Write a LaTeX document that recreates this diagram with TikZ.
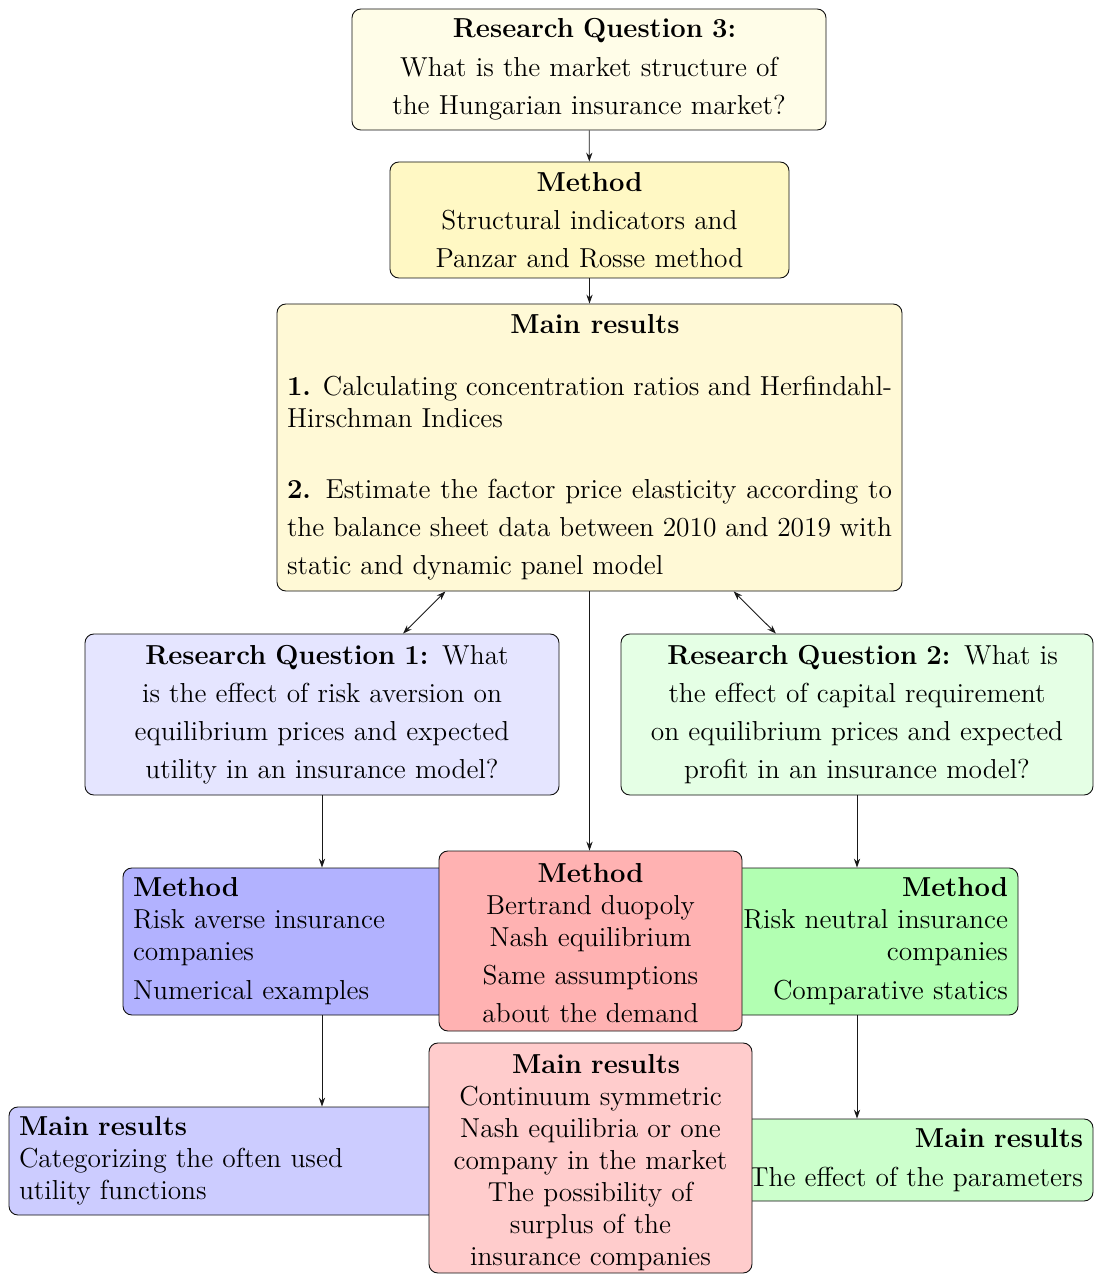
\documentclass[tikz,border=0pt]{standalone}
\usetikzlibrary{arrows.meta}
\definecolor{rqthree}{RGB}{255,253,232}
\definecolor{methree}{RGB}{255,248,196}
\definecolor{mrthree}{RGB}{255,249,214}
\begin{document}
\begin{tikzpicture}[x=0.45pt,y=-0.45pt,
  box/.style={draw=black!95, rounded corners=4pt, inner xsep=4.5pt, inner ysep=0pt,
    font=\fontsize{12.35}{14.4}\selectfont},
  tall/.style={font=\fontsize{12.35}{17.1}\selectfont},
  arr/.style={-{Stealth[length=4pt,width=2.8pt]}, draw=black!90},
  darr/.style={{Stealth[length=4pt,width=2.8pt]}-{Stealth[length=4pt,width=2.8pt]}, draw=black!90}]
\useasboundingbox (0,0) rectangle (1093,1274);

% top column
\node[box, tall, fill=rqthree, align=center, text width=454*0.45pt, minimum height=121*0.45pt]
  (rq3) at (589,69.5) {\hspace*{5pt}\textbf{Research Question 3:}\\[0.5pt]What is the market structure of\\the Hungarian insurance market?};
\node[box, tall, fill=methree, align=center, text width=379*0.45pt, minimum height=116*0.45pt]
  (m3) at (589.5,220) {\textbf{Method}\\Structural indicators and\\Panzar and Rosse method};
\node[box, fill=mrthree, align=justify, text width=605*0.45pt, minimum height=287*0.45pt]
  (mr3) at (589.5,447.5) {\setlength\parindent{0pt}%
  {\centering\hspace*{5pt}\textbf{Main results}\par}
  \vspace{13.5pt}
  \textbf{1.} Calculating concentration ratios and Herfindahl-\linebreak Hirschman Indices\par
  \vspace{14.75pt}
  {\baselineskip=17.2pt \textbf{2.} Estimate the factor price elasticity according to\linebreak the balance sheet data between 2010 and 2019 with\linebreak static and dynamic panel model\par}};

% research questions
\node[box, tall, fill=blue!10, align=center, text width=454*0.45pt, minimum height=161*0.45pt]
  (rq1) at (322,714.5) {\hspace*{4.5pt}\textbf{Research Question 1:} What\\is the effect of risk aversion on\\equilibrium prices and expected\\utility in an insurance model?};
\node[box, tall, fill=green!10, align=center, text width=452*0.45pt, minimum height=161*0.45pt]
  (rq2) at (857,714.5) {\hspace*{5pt}\textbf{Research Question 2:} What is\\the effect of capital requirement\\on equilibrium prices and expected\\profit in an insurance model?};

% side methods and results
\node[box, fill=blue!30, align=left, text width=378*0.45pt, minimum height=147*0.45pt]
  (m1) at (322,941.5) {\textbf{Method}\\Risk averse insurance\\companies\\[3.1pt]Numerical examples};
\node[box, fill=green!30, align=right, text width=302*0.45pt, minimum height=147*0.45pt]
  (m2) at (857,941.5) {\textbf{Method}\\Risk neutral insurance\\companies\\[3.1pt]Comparative statics};
\node[box, fill=blue!20, align=left, text width=606*0.45pt, minimum height=108*0.45pt]
  (r1) at (322,1161) {\textbf{Main results}\\Categorizing the often used\\utility functions};
\node[box, fill=green!20, align=right, text width=452*0.45pt, minimum height=82*0.45pt]
  (r2) at (857,1160) {\textbf{Main results}\\[3.1pt]The effect of the parameters};

% central column
\node[box, fill=red!30, align=center, text width=283*0.45pt, minimum height=180*0.45pt]
  (mc) at (590.5,941) {\rule{0pt}{10.5pt}\textbf{Method}\\Bertrand duopoly\\Nash equilibrium\\[3.1pt]Same assumptions\\[2.7pt]about the demand};
\node[box, fill=red!20, align=center, text width=303*0.45pt, minimum height=230*0.45pt]
  (rc) at (590.5,1158) {\rule{0pt}{12.5pt}\hspace*{5pt}\textbf{Main results}\\Continuum symmetric\\Nash equilibria or one\\company in the market\\The possibility of\\surplus of the\\insurance companies};

% connectors
\draw[arr] (rq3) -- (m3);
\draw[arr] (m3) -- (mr3);
\draw[darr] (mr3) -- (rq1);
\draw[darr] (mr3) -- (rq2);
\draw[arr] (mr3.south) -- (mr3.south |- mc.north);
\draw[arr] (rq1) -- (m1);
\draw[arr] (rq2) -- (m2);
\draw[arr] (m1) -- (r1);
\draw[arr] (m2) -- (r2);
\end{tikzpicture}
\end{document}
